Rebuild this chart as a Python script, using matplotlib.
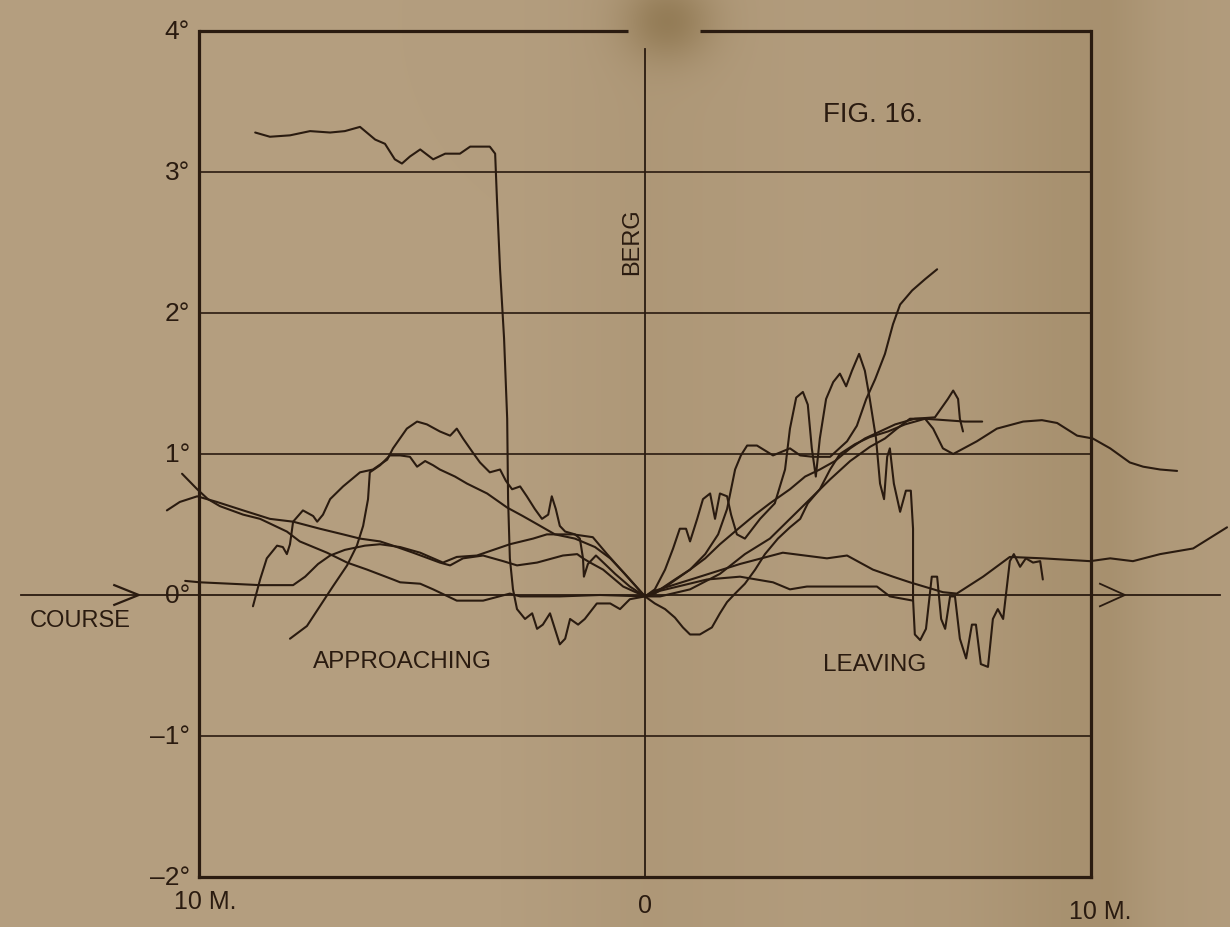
import matplotlib.pyplot as plt
import numpy as np

# deviation (degrees) against distance from the berg (miles), approaching -> leaving
run_a_x = [-8.74, -8.41, -7.96, -7.51, -7.06, -6.73, -6.39, -6.05, -5.83, -5.61, -5.45, -5.27, -5.04,
           -4.75, -4.48, -4.15, -3.92, -3.48, -3.36, -3.32, -3.25, -3.16, -3.09, -3.07, -3.03, -2.96,
           -2.87, -2.69, -2.53, -2.42, -2.29, -2.13, -2.02, -1.91, -1.79, -1.68, -1.50, -1.35, -1.08,
           -0.78, -0.56, -0.34, 0.0,
           0.22, 0.45, 0.63, 0.78, 0.92, 1.01, 1.17, 1.30, 1.46, 1.57, 1.68, 1.84, 1.93, 2.06, 2.24,
           2.58, 2.91, 3.14, 3.25, 3.39, 3.54, 3.65, 3.74, 3.83, 3.92, 4.06, 4.22, 4.37, 4.51, 4.64,
           4.80, 4.93, 5.04, 5.18, 5.27, 5.36, 5.43, 5.49, 5.58, 5.72, 5.85, 5.96, 6.01, 6.01, 6.05,
           6.17, 6.30, 6.43, 6.55, 6.64, 6.73, 6.84, 6.95, 7.06, 7.20, 7.33, 7.42, 7.53, 7.69, 7.80,
           7.91, 8.03, 8.18, 8.27, 8.41, 8.54, 8.70, 8.86, 8.92]
run_a_y = [3.28, 3.25, 3.26, 3.29, 3.28, 3.29, 3.32, 3.23, 3.20, 3.09, 3.06, 3.11, 3.16,
           3.09, 3.13, 3.13, 3.18, 3.18, 3.13, 2.81, 2.31, 1.82, 1.25, 0.68, 0.26, 0.04,
           -0.10, -0.17, -0.13, -0.24, -0.21, -0.13, -0.24, -0.35, -0.31, -0.17, -0.21, -0.17, -0.06,
           -0.06, -0.10, -0.03, -0.01,
           0.04, 0.18, 0.33, 0.47, 0.47, 0.38, 0.54, 0.68, 0.72, 0.54, 0.72, 0.70, 0.57, 0.43, 0.40,
           0.54, 0.65, 0.89, 1.18, 1.40, 1.44, 1.35, 1.04, 0.84, 1.11, 1.39, 1.51, 1.57, 1.48, 1.59,
           1.71, 1.59, 1.39, 1.11, 0.79, 0.68, 0.98, 1.04, 0.79, 0.59, 0.74, 0.74, 0.47, -0.03, -0.28,
           -0.32, -0.24, 0.13, 0.13, -0.17, -0.24, -0.01, -0.01, -0.31, -0.45, -0.21, -0.21, -0.49, -0.51,
           -0.17, -0.10, -0.17, 0.24, 0.29, 0.20, 0.26, 0.23, 0.24, 0.11]

run_b_x = [-10.38, -10.04, -9.80, -9.53, -9.01, -8.63, -8.03, -7.74, -7.13, -6.68, -6.23, -5.65, -5.49,
           -5.04, -4.75, -4.22, -3.63, -3.03, -2.80, -1.91, -1.01, 0.0,
           0.34, 1.39, 2.13, 2.87, 3.25, 3.63, 4.37, 5.20, 5.49, 6.01]
run_b_y = [0.86, 0.75, 0.68, 0.63, 0.57, 0.54, 0.45, 0.38, 0.30, 0.23, 0.18, 0.11, 0.09,
           0.08, 0.04, -0.04, -0.04, 0.01, -0.01, -0.01, 0.0, -0.01,
           0.03, 0.11, 0.13, 0.09, 0.04, 0.06, 0.06, 0.06, -0.01, -0.04]

run_c_x = [-10.72, -10.43, -10.04, -9.82, -9.60, -9.01, -8.41, -7.89, -7.29, -6.77, -6.39, -5.94, -5.65,
           -5.20, -4.60, -4.37, -4.08, -3.63, -3.18, -2.87, -2.42, -1.84, -1.52, -1.39, -1.23, -0.94,
           -0.49, 0.0,
           0.34, 1.01, 1.68, 2.24, 2.80, 3.25, 3.70, 4.15, 4.60, 5.04, 5.38, 5.65, 5.94, 6.28, 6.46,
           6.68, 6.91, 7.44, 7.89, 8.48, 8.90, 9.24, 9.69, 10.04, 10.43, 10.87, 11.17, 11.55, 11.93]
run_c_y = [0.60, 0.66, 0.70, 0.68, 0.66, 0.60, 0.54, 0.52, 0.47, 0.43, 0.40, 0.38, 0.35,
           0.30, 0.23, 0.21, 0.26, 0.28, 0.24, 0.21, 0.23, 0.28, 0.29, 0.26, 0.23, 0.18,
           0.06, -0.01,
           -0.01, 0.04, 0.15, 0.29, 0.40, 0.54, 0.68, 0.82, 0.95, 1.05, 1.11, 1.18, 1.25, 1.25, 1.18,
           1.04, 1.00, 1.09, 1.18, 1.23, 1.24, 1.22, 1.13, 1.11, 1.04, 0.94, 0.91, 0.89, 0.88]

run_d_x = [-10.31, -9.98, -9.30, -8.63, -7.89, -7.62, -7.33, -7.06, -6.73, -6.28, -5.94, -5.49, -5.04,
           -4.53, -4.22, -3.77, -3.03, -2.51, -2.20, -1.61, -1.17, -0.85, -0.40, 0.0,
           0.34, 0.67, 1.01, 1.35, 1.68, 2.09, 2.47, 2.80, 3.25, 3.59, 3.92, 4.26, 4.60, 4.93, 5.27,
           5.61, 6.05, 6.50, 6.79, 6.91, 7.02, 7.06, 7.13]
run_d_y = [0.10, 0.09, 0.08, 0.07, 0.07, 0.13, 0.22, 0.28, 0.32, 0.35, 0.36, 0.34, 0.30,
           0.23, 0.27, 0.28, 0.36, 0.40, 0.43, 0.43, 0.41, 0.29, 0.13, -0.01,
           0.04, 0.11, 0.18, 0.26, 0.36, 0.47, 0.57, 0.65, 0.75, 0.84, 0.89, 0.95, 1.04, 1.11, 1.16,
           1.21, 1.25, 1.26, 1.39, 1.45, 1.39, 1.25, 1.16]

run_e_x = [-8.79, -8.63, -8.48, -8.25, -8.12, -8.03, -7.96, -7.89, -7.67, -7.44, -7.35, -7.22, -7.06,
           -6.77, -6.39, -6.10, -5.78, -5.65, -5.34, -5.11, -4.89, -4.60, -4.37, -4.22, -4.08, -3.86,
           -3.70, -3.48, -3.25, -3.12, -2.98, -2.80, -2.65, -2.47, -2.31, -2.17, -2.09, -2.00, -1.91,
           -1.79, -1.57, -1.46, -1.39, -1.37, -1.28, -1.10, -0.90, -0.67, -0.34, 0.0,
           0.22, 0.56, 1.01, 1.35, 1.64, 1.84, 2.02, 2.15, 2.29, 2.51, 2.87, 3.25, 3.48, 3.77, 4.15,
           4.53, 4.75, 4.96, 5.16, 5.38, 5.56, 5.72, 5.99, 6.28, 6.55]
run_e_y = [-0.08, 0.11, 0.26, 0.35, 0.34, 0.29, 0.36, 0.52, 0.60, 0.56, 0.52, 0.57, 0.68,
           0.77, 0.87, 0.89, 0.96, 1.04, 1.18, 1.23, 1.21, 1.16, 1.13, 1.18, 1.11, 1.01,
           0.94, 0.87, 0.89, 0.81, 0.75, 0.77, 0.70, 0.61, 0.54, 0.57, 0.70, 0.61, 0.49,
           0.45, 0.43, 0.40, 0.26, 0.13, 0.22, 0.28, 0.22, 0.15, 0.06, -0.01,
           0.01, 0.08, 0.18, 0.29, 0.43, 0.61, 0.89, 0.99, 1.06, 1.06, 0.99, 1.04, 0.99, 0.98, 0.98,
           1.09, 1.20, 1.39, 1.53, 1.71, 1.92, 2.06, 2.16, 2.24, 2.31]

run_f_x = [-7.96, -7.58, -7.29, -7.00, -6.68, -6.46, -6.32, -6.21, -6.17, -5.94, -5.72, -5.49, -5.27,
           -5.11, -4.93, -4.75, -4.60, -4.26, -3.99, -3.54, -3.09, -2.74, -2.35, -2.02, -1.57, -1.12,
           -0.78, -0.45, 0.0,
           0.22, 0.45, 0.67, 0.85, 1.01, 1.23, 1.50, 1.68, 1.84, 2.02, 2.24, 2.47, 2.69, 2.98, 3.25,
           3.48, 3.65, 3.92, 4.15, 4.37, 4.71, 5.04, 5.45, 5.83, 6.28, 6.73, 7.17, 7.56]
run_f_y = [-0.31, -0.22, -0.08, 0.06, 0.21, 0.35, 0.49, 0.68, 0.87, 0.92, 0.99, 0.99, 0.98,
           0.91, 0.95, 0.92, 0.89, 0.84, 0.79, 0.72, 0.62, 0.56, 0.49, 0.43, 0.40, 0.34,
           0.26, 0.15, -0.01,
           -0.06, -0.10, -0.16, -0.23, -0.28, -0.28, -0.23, -0.13, -0.05, 0.01, 0.08, 0.18, 0.29, 0.40, 0.48,
           0.54, 0.65, 0.75, 0.89, 1.00, 1.07, 1.12, 1.16, 1.21, 1.25, 1.24, 1.23, 1.23]

# the run that continues past the right edge near the course line
run_g_x = [0.0, 0.22, 1.23, 2.13, 3.09, 4.08, 4.53, 5.11, 5.56, 5.94, 6.68, 6.99, 7.58, 8.18, 8.92,
           9.98, 10.43, 10.94, 11.55, 12.29, 13.05]
run_g_y = [-0.01, 0.03, 0.13, 0.22, 0.30, 0.26, 0.28, 0.18, 0.13, 0.09, 0.02, 0.01, 0.13, 0.27, 0.26,
           0.24, 0.26, 0.24, 0.29, 0.33, 0.48]

runs = [(run_a_x, run_a_y), (run_b_x, run_b_y), (run_c_x, run_c_y), (run_d_x, run_d_y),
        (run_e_x, run_e_y), (run_f_x, run_f_y), (run_g_x, run_g_y)]

deg_ticks = [4, 3, 2, 1, 0, -1, -2]
deg_labels = ['4°', '3°', '2°', '1°', '0°', '\u20131°', '\u20132°']
grid_levels = [3, 2, 1, -1]

ink = '#2a1b10'
paper = np.array([179, 157, 125]) / 255.0
font = ['Liberation Sans', 'DejaVu Sans']

W, H = 1230, 928
fig = plt.figure(figsize=(W / 100, H / 100), dpi=100)
fig.patch.set_facecolor(paper)

# paper tone: darker band toward the binding on the right, soft shadow at the fold on top
cols = np.arange(W)
stops = [0, 500, 650, 820, 960, 1060, 1110, 1160, 1230]
shade = [0.0, 0.0, 6, 2, 5, 12, 13, 5, 2]
col_dark = np.interp(cols, stops, shade)
yy, xx = np.mgrid[0:H, 0:W]
blob = 26 * np.exp(-((xx - 668) / 45.0) ** 2 - ((yy - 22) / 40.0) ** 2)
dark = col_dark[None, :] + blob
base = np.array([180, 158, 127], dtype=float)
tint = np.array([1.0, 1.05, 1.25])
img = base[None, None, :] - dark[:, :, None] * tint[None, None, :]
bg = fig.add_axes([0, 0, 1, 1], zorder=-1)
bg.imshow(np.clip(img, 0, 255).astype(np.uint8), aspect='auto')
bg.axis('off')

ax = fig.add_axes([199 / W, 1 - 878 / H, 892 / W, 846 / H])
ax.patch.set_alpha(0)
ax.set_xlim(-10, 10)
ax.set_ylim(-2, 4)
ax.set_xticks([])
ax.set_yticks([])
for side in ['left', 'right', 'bottom']:
    ax.spines[side].set_color(ink)
    ax.spines[side].set_linewidth(2.3)
ax.spines['top'].set_visible(False)
# top edge is broken at the fold
ax.plot([-10, -0.38], [4, 4], color=ink, lw=2.3, clip_on=False, solid_capstyle='butt')
ax.plot([1.23, 10], [4, 4], color=ink, lw=2.3, clip_on=False, solid_capstyle='butt')

for lvl in grid_levels:
    ax.axhline(lvl, color=ink, lw=1.2)
ax.plot([0, 0], [-2, 3.87], color=ink, lw=1.3)

# course line with arrow heads
ax.plot([-14.0, 12.9], [0, 0], color=ink, lw=1.3, clip_on=False)
ax.plot([-11.9, -11.35, -11.9], [0.07, 0, -0.07], color=ink, lw=1.6, clip_on=False)
ax.plot([10.2, 10.76, 10.2], [0.08, 0, -0.08], color=ink, lw=1.3, clip_on=False)

for xs, ys in runs:
    ax.plot(xs, ys, color=ink, lw=1.5, clip_on=False,
            solid_joinstyle='round', solid_capstyle='round')

for v, lab in zip(deg_ticks, deg_labels):
    ax.text(-10.2, v, lab, ha='right', va='center', fontsize=19, color=ink,
            family=font, clip_on=False)

ax.text(-9.87, -2.17, '10 M.', ha='center', va='center', fontsize=18, color=ink, family=font)
ax.text(0, -2.2, '0', ha='center', va='center', fontsize=18, color=ink, family=font)
ax.text(10.2, -2.24, '10 M.', ha='center', va='center', fontsize=18, color=ink, family=font)

ax.text(-12.67, -0.18, 'COURSE', ha='center', va='center', fontsize=17, color=ink, family=font)
ax.text(-5.43, -0.47, 'APPROACHING', ha='center', va='center', fontsize=17.5, color=ink, family=font)
ax.text(5.16, -0.49, 'LEAVING', ha='center', va='center', fontsize=17.5, color=ink, family=font)
ax.text(5.11, 3.41, 'FIG. 16.', ha='center', va='center', fontsize=20, color=ink, family=font)
ax.text(-0.29, 2.51, 'BERG', ha='center', va='center', fontsize=17, color=ink, family=font,
        rotation=90)

fig.savefig('out.png', dpi=100, facecolor=fig.get_facecolor())
